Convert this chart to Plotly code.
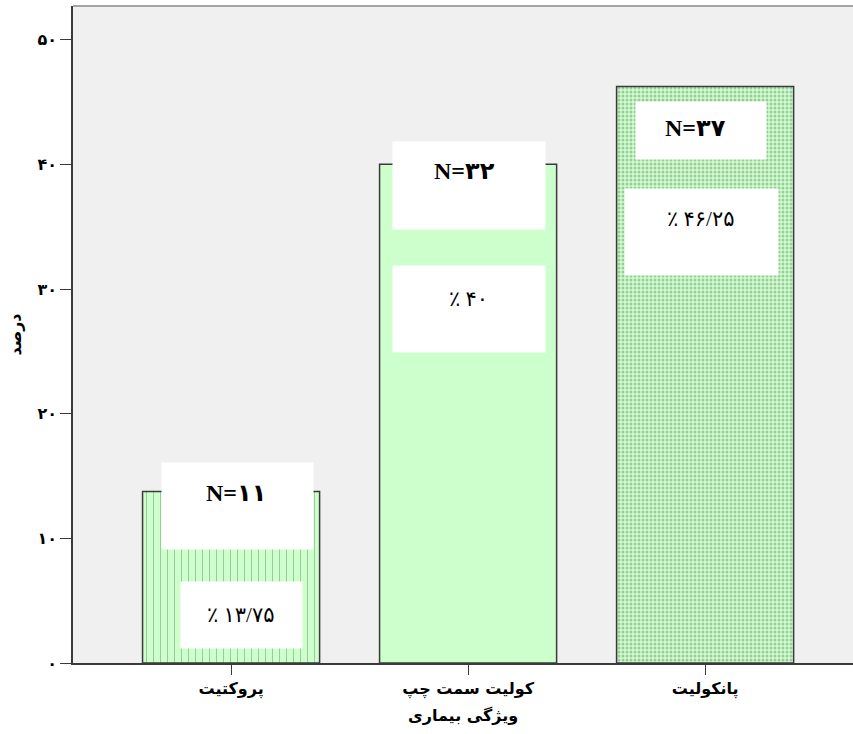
import plotly.graph_objects as go

categories = ["پروکتیت", "کولیت سمت چپ", "پانکولیت"]
percents = [13.75, 40, 46.25]
counts = ["N=۱۱", "N=۳۲", "N=۳۷"]
pct_labels = ["٪ ۱۳/۷۵", "٪ ۴۰", "٪ ۴۶/۲۵"]
y_tickvals = [0, 10, 20, 30, 40, 50]
y_ticktext = ["۰", "۱۰", "۲۰", "۳۰", "۴۰", "۵۰"]
x_title = "ویژگی بیماری"
y_title = "درصد"

# style / placement (pixels)
pattern_shapes = ["|", "", "."]
pattern_sizes = [7, 8, 4]
pattern_solid = [0.14, 0.1, 0.45]
nbox = [(6.5, 14, 151, 86), (1, 21.5, 152, 87), (-4, 44, 130, 57)]
pbox = [(10.5, 123, 121, 66), (1, 145, 152, 86), (-3.5, 146, 153, 86)]
ntext = [(5, 1), (-4, 7), (-10, 42)]
ptext = [(9.5, 123), (0, 135), (-4.5, 133)]

xpos = list(range(len(categories)))

fig = go.Figure()
fig.add_trace(go.Bar(
    x=xpos, y=percents, width=0.747,
    marker=dict(
        color="#CCFFCC",
        line=dict(color="#3a3a3a", width=1.5),
        pattern=dict(shape=pattern_shapes, size=pattern_sizes,
                     solidity=pattern_solid, fgcolor="#6f8f6f",
                     fillmode="overlay"),
    ),
    hoverinfo="skip",
))

annotations = []
for i, v in enumerate(percents):
    for (dx, dy, w, h) in (nbox[i], pbox[i]):
        annotations.append(dict(
            x=xpos[i], y=v, xref="x", yref="y", text=" ", showarrow=False,
            xshift=dx, yshift=-dy, width=w, height=h, bgcolor="white",
            borderpad=0, xanchor="center", yanchor="middle",
        ))
for i, v in enumerate(percents):
    annotations.append(dict(
        x=xpos[i], y=v, xref="x", yref="y", text="<b>" + counts[i] + "</b>",
        showarrow=False, xshift=ntext[i][0], yshift=-ntext[i][1],
        font=dict(family="Liberation Serif, DejaVu Sans", size=24, color="black"),
        xanchor="center", yanchor="middle",
    ))
    annotations.append(dict(
        x=xpos[i], y=v, xref="x", yref="y", text=pct_labels[i],
        showarrow=False, xshift=ptext[i][0], yshift=-ptext[i][1],
        font=dict(family="Liberation Serif, DejaVu Sans", size=21, color="black"),
        xanchor="center", yanchor="middle",
    ))
annotations.append(dict(
    x=0.5, y=-0.08, xref="paper", yref="paper", text="<b>" + x_title + "</b>",
    showarrow=False, yanchor="middle",
    font=dict(family="DejaVu Sans", size=16, color="black"),
))

fig.update_layout(
    width=853, height=734,
    margin=dict(l=73, r=0, t=6, b=71),
    paper_bgcolor="white", plot_bgcolor="#F0F0F0",
    showlegend=False,
    annotations=annotations,
    shapes=[dict(type="line", xref="paper", yref="paper", x0=0, x1=1, y0=1, y1=1,
                 line=dict(color="#8a8a8a", width=1.5))],
    xaxis=dict(
        range=[-0.667, 2.624], tickmode="array", tickvals=xpos,
        ticktext=["<b>" + c + "</b>" for c in categories],
        ticks="outside", ticklen=10, tickcolor="#3a3a3a", tickwidth=1,
        showline=True, linecolor="#3a3a3a", linewidth=1.5,
        showgrid=False, zeroline=False,
        tickfont=dict(family="DejaVu Sans", size=16, color="black"),
    ),
    yaxis=dict(
        range=[0, 52.7], tickmode="array", tickvals=y_tickvals, ticktext=["<b>" + t + "</b>" for t in y_ticktext],
        ticks="outside", ticklen=11, tickcolor="#3a3a3a", tickwidth=1,
        showline=True, linecolor="#3a3a3a", linewidth=1.5,
        showgrid=False, zeroline=False,
        tickfont=dict(family="DejaVu Sans", size=16, color="black"),
        title=dict(text="<b>" + y_title + "</b>", standoff=12,
                   font=dict(family="DejaVu Sans", size=16, color="black")),
    ),
)

fig.write_html("out.html", config={"displayModeBar": False},
               post_script="document.body.style.margin='0';")
